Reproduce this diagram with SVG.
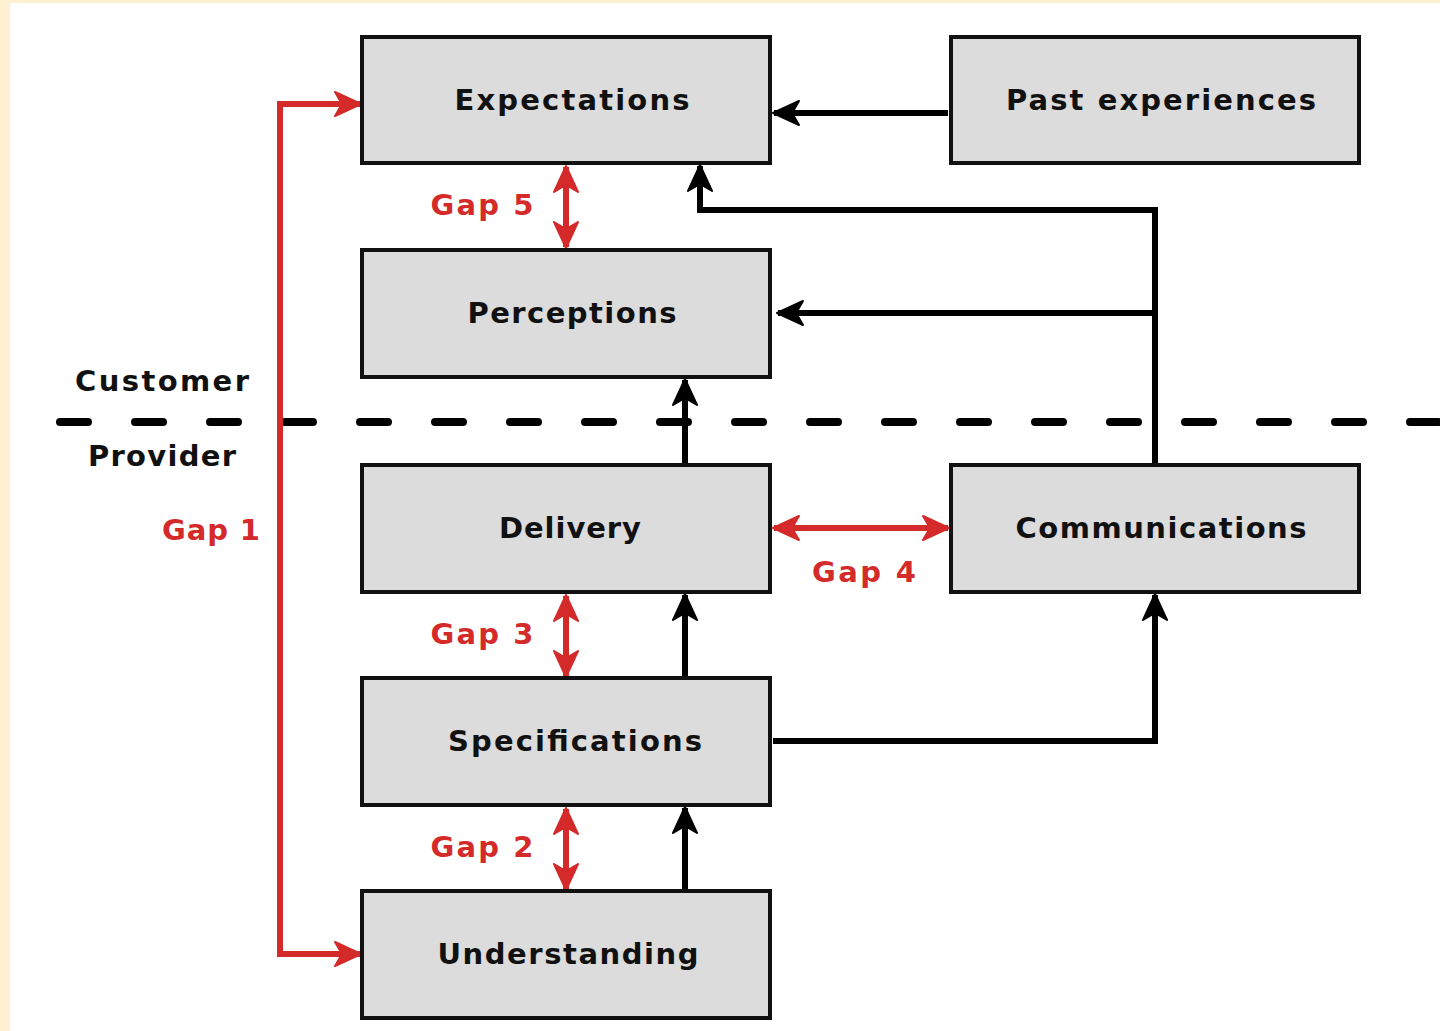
<svg xmlns="http://www.w3.org/2000/svg" width="1440" height="1031" viewBox="0 0 1440 1031">
<style>
.box{fill:#dcdcdc;stroke:#111;stroke-width:4}
.lbl{font-family:"DejaVu Sans",sans-serif;font-weight:bold;font-size:29px;fill:#111;text-anchor:middle;dominant-baseline:central}
.gap{font-family:"DejaVu Sans",sans-serif;font-weight:bold;font-size:29px;fill:#d42a2a;text-anchor:middle;dominant-baseline:central}
.blk{fill:none;stroke:#000;stroke-width:6}
.red{fill:none;stroke:#d42a2a;stroke-width:6}
</style>
<defs>
<marker id="ab" viewBox="0 0 28 28" refX="26" refY="14" markerWidth="28" markerHeight="28" markerUnits="userSpaceOnUse" orient="auto-start-reverse">
<path d="M1,2 L27,14 L1,26 L8,14 z" fill="#000" stroke="#000" stroke-width="2" stroke-linejoin="round"/>
</marker>
<marker id="ar" viewBox="0 0 28 28" refX="26" refY="14" markerWidth="28" markerHeight="28" markerUnits="userSpaceOnUse" orient="auto-start-reverse">
<path d="M1,2 L27,14 L1,26 L8,14 z" fill="#d42a2a" stroke="#d42a2a" stroke-width="2" stroke-linejoin="round"/>
</marker>
</defs>
<rect x="0" y="0" width="1440" height="1031" fill="#fff1d2"/>
<rect x="10" y="3" width="1430" height="1028" fill="#fff"/>

<g id="divider">
<line x1="60" y1="422" x2="1440" y2="422" stroke="#000" stroke-width="8" stroke-linecap="round" stroke-dasharray="28 47"/>
<text class="lbl" x="162" y="381" textLength="174" lengthAdjust="spacing">Customer</text>
<text class="lbl" x="162" y="456" textLength="148" lengthAdjust="spacing">Provider</text>
</g>

<g id="connectors">
<polyline class="blk" points="948,113 774,113" marker-end="url(#ab)"/>
<polyline class="blk" points="1155,465 1155,210 700,210 700,166" marker-end="url(#ab)"/>
<polyline class="blk" points="1155,313 778,313" marker-end="url(#ab)"/>
<polyline class="blk" points="685,463 685,380" marker-end="url(#ab)"/>
<polyline class="blk" points="685,676 685,595" marker-end="url(#ab)"/>
<polyline class="blk" points="685,889 685,808" marker-end="url(#ab)"/>
<polyline class="blk" points="773,741 1155,741 1155,595" marker-end="url(#ab)"/>
<polyline class="red" points="360,104 280,104 280,954 360,954" marker-start="url(#ar)" marker-end="url(#ar)"/>
<line class="red" x1="566" y1="167" x2="566" y2="247" marker-start="url(#ar)" marker-end="url(#ar)"/>
<line class="red" x1="566" y1="596" x2="566" y2="676" marker-start="url(#ar)" marker-end="url(#ar)"/>
<line class="red" x1="566" y1="809" x2="566" y2="889" marker-start="url(#ar)" marker-end="url(#ar)"/>
<line class="red" x1="774" y1="528" x2="948" y2="528" marker-start="url(#ar)" marker-end="url(#ar)"/>
<text class="gap" x="211" y="530" textLength="98" lengthAdjust="spacing">Gap 1</text>
<text class="gap" x="482" y="847" textLength="103" lengthAdjust="spacing">Gap 2</text>
<text class="gap" x="482" y="634" textLength="103" lengthAdjust="spacing">Gap 3</text>
<text class="gap" x="864" y="572" textLength="104" lengthAdjust="spacing">Gap 4</text>
<text class="gap" x="482" y="205" textLength="103" lengthAdjust="spacing">Gap 5</text>
</g>

<g id="expectations"><rect class="box" x="362" y="37" width="408" height="126"/><text class="lbl" x="572" y="100" textLength="235" lengthAdjust="spacing">Expectations</text></g>
<g id="past-experiences"><rect class="box" x="951" y="37" width="408" height="126"/><text class="lbl" x="1161" y="100" textLength="310" lengthAdjust="spacing">Past experiences</text></g>
<g id="perceptions"><rect class="box" x="362" y="250" width="408" height="127"/><text class="lbl" x="572" y="313" textLength="209" lengthAdjust="spacing">Perceptions</text></g>
<g id="delivery"><rect class="box" x="362" y="465" width="408" height="127"/><text class="lbl" x="570" y="528" textLength="142" lengthAdjust="spacing">Delivery</text></g>
<g id="communications"><rect class="box" x="951" y="465" width="408" height="127"/><text class="lbl" x="1161" y="528" textLength="291" lengthAdjust="spacing">Communications</text></g>
<g id="specifications"><rect class="box" x="362" y="678" width="408" height="127"/><text class="lbl" x="575" y="741" textLength="254" lengthAdjust="spacing">Specifications</text></g>
<g id="understanding"><rect class="box" x="362" y="891" width="408" height="127"/><text class="lbl" x="568" y="954" textLength="261" lengthAdjust="spacing">Understanding</text></g>
</svg>
